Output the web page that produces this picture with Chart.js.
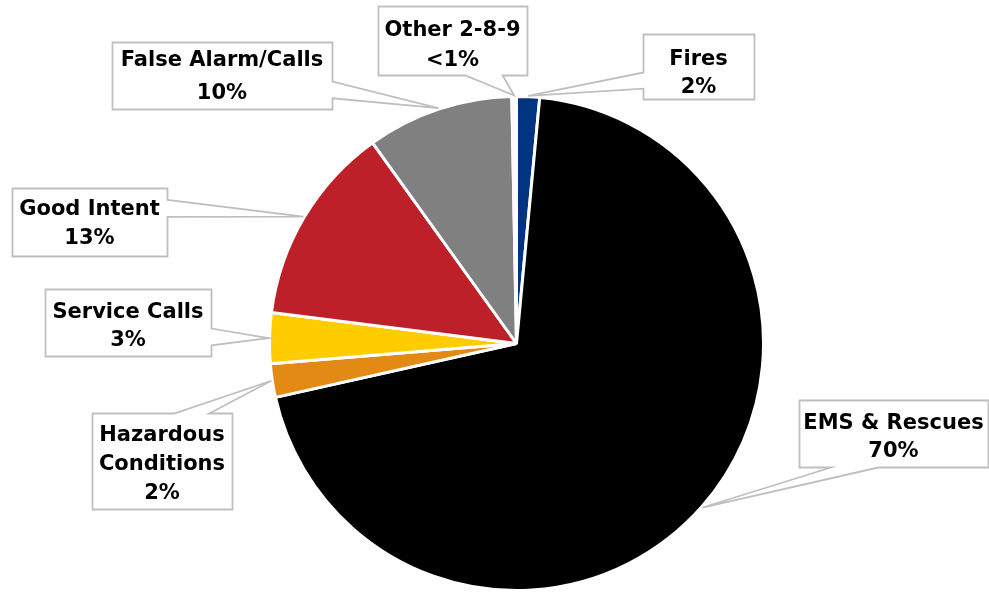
<!DOCTYPE html>
<html>
<head>
<meta charset="utf-8">
<script src="https://cdn.jsdelivr.net/npm/chart.js@4/dist/chart.umd.min.js"></script>
<style>
  html, body { margin: 0; padding: 0; background: #ffffff; }
  #chart { display: block; }
</style>
</head>
<body>
<canvas id="chart" width="989" height="592"></canvas>
<script>
// Incident types and their share of all calls (percent)
const categories = ['Fires', 'EMS & Rescues', 'Hazardous Conditions', 'Service Calls', 'Good Intent', 'False Alarm/Calls', 'Other 2-8-9'];
const shares = [1.5, 70.0, 2.2, 3.3, 13.1, 9.6, 0.3];

// Slice colours
const sliceColors = ['#003380', '#000000', '#E38A14', '#FFCC00', '#BE2029', '#808080', '#FFFFFF'];

// Callout boxes: [left, top, width, height], text vertical nudge, line pitch, wrap words
const calloutLayout = [
  { box: [643, 34, 111, 65],  dy: 5,   pitch: 28,   wrap: false },
  { box: [799, 400, 189, 67], dy: 2,   pitch: 28.3, wrap: false },
  { box: [92, 413, 140, 96],  dy: 1.5, pitch: 29,   wrap: true  },
  { box: [45, 289, 166, 67],  dy: 1.7, pitch: 28.3, wrap: false },
  { box: [12, 188, 155, 68],  dy: 0,   pitch: 28.5, wrap: false },
  { box: [112, 42, 220, 67],  dy: -1,  pitch: 32.7, wrap: false },
  { box: [378, 6, 149, 69],   dy: 2.8, pitch: 30,   wrap: false }
];

function pctText(v) {
  return v < 1 ? '<1%' : Math.round(v) + '%';
}

// Rectangle callout with a wedge pointer aimed at (tx, ty)
function calloutPath(ctx, l, t, w, h, tx, ty) {
  const r = l + w, b = t + h;
  const cx = l + w / 2, cy = t + h / 2;
  const dx = tx - cx, dy = ty - cy;
  const dq = dx * h / w;
  const vertical = Math.abs(dy) > Math.abs(dq);
  const xa = l + w * (dx > 0 ? 7 : 2) / 12, xb = l + w * (dx > 0 ? 10 : 5) / 12;
  const ya = t + h * (dy > 0 ? 7 : 2) / 12, yb = t + h * (dy > 0 ? 10 : 5) / 12;
  ctx.beginPath();
  ctx.moveTo(l, t);
  if (vertical && dy < 0) { ctx.lineTo(xa, t); ctx.lineTo(tx, ty); ctx.lineTo(xb, t); }
  ctx.lineTo(r, t);
  if (!vertical && dx > 0) { ctx.lineTo(r, ya); ctx.lineTo(tx, ty); ctx.lineTo(r, yb); }
  ctx.lineTo(r, b);
  if (vertical && dy > 0) { ctx.lineTo(xb, b); ctx.lineTo(tx, ty); ctx.lineTo(xa, b); }
  ctx.lineTo(l, b);
  if (!vertical && dx < 0) { ctx.lineTo(l, yb); ctx.lineTo(tx, ty); ctx.lineTo(l, ya); }
  ctx.closePath();
}

const calloutPlugin = {
  id: 'callouts',
  afterDatasetsDraw(chart) {
    const ctx = chart.ctx;
    const arcs = chart.getDatasetMeta(0).data;
    const fontSize = 21;
    const capHalf = fontSize * 0.729 / 2;
    ctx.save();
    arcs.forEach((arc, i) => {
      const p = arc.getProps(['x', 'y', 'startAngle', 'endAngle', 'outerRadius'], true);
      const mid = (p.startAngle + p.endAngle) / 2;
      const tx = p.x + Math.cos(mid) * (p.outerRadius + 1);
      const ty = p.y + Math.sin(mid) * (p.outerRadius + 1);
      const lay = calloutLayout[i];
      const [l, t, w, h] = lay.box;

      calloutPath(ctx, l + 0.5, t + 0.5, w, h, tx, ty);
      ctx.fillStyle = '#ffffff';
      ctx.fill();
      ctx.lineWidth = 1.8;
      ctx.strokeStyle = '#BFBFBF';
      ctx.lineJoin = 'miter';
      ctx.stroke();

      const lines = (lay.wrap ? categories[i].split(' ') : [categories[i]]).concat([pctText(shares[i])]);
      ctx.font = 'bold ' + fontSize + 'px "DejaVu Sans", sans-serif';
      ctx.fillStyle = '#000000';
      ctx.textAlign = 'center';
      ctx.textBaseline = 'alphabetic';
      const cx = l + w / 2;
      const cy = t + h / 2 + lay.dy;
      const first = cy - (lines.length - 1) * lay.pitch / 2;
      lines.forEach((s, k) => {
        ctx.fillText(s, cx, first + k * lay.pitch + capHalf);
      });
    });
    ctx.restore();
  }
};

new Chart(document.getElementById('chart'), {
  type: 'pie',
  data: {
    labels: categories,
    datasets: [{
      data: shares,
      backgroundColor: sliceColors,
      borderColor: '#ffffff',
      borderWidth: 3
    }]
  },
  options: {
    responsive: false,
    animation: false,
    layout: { padding: { top: 95, bottom: 0, left: 44, right: 0 } },
    plugins: {
      legend: { display: false },
      tooltip: { enabled: false }
    }
  },
  plugins: [calloutPlugin]
});
</script>
</body>
</html>
